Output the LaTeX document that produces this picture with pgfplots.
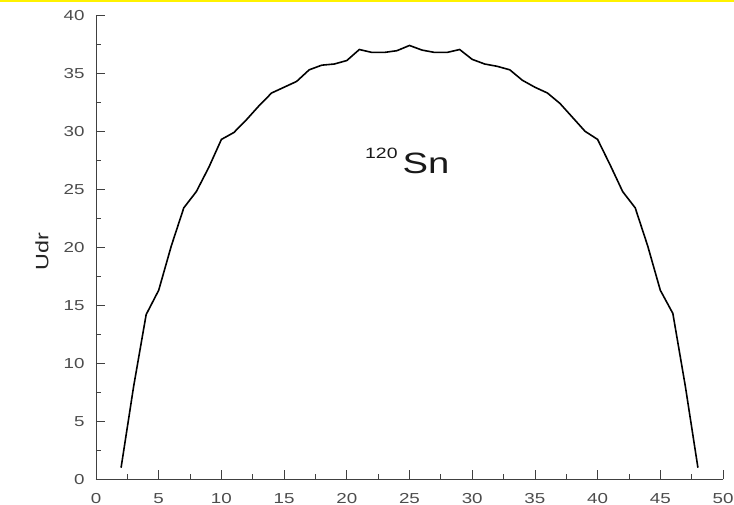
\documentclass[border=0pt]{standalone}
\usepackage{pgfplots}
\pgfplotsset{compat=1.18}
\usepackage{fontspec}
\setmainfont{Liberation Sans}[FakeStretch=1.3]
\pgfplotstableread{
x y
2 1.0
3 8.0
4 14.2
5 16.3
6 20.1
7 23.4
8 24.8
9 26.9
10 29.3
11 29.9
12 31.0
13 32.2
14 33.3
15 33.8
16 34.3
17 35.3
18 35.7
19 35.8
20 36.1
21 37.05
22 36.8
23 36.8
24 36.95
25 37.4
26 37.0
27 36.8
28 36.8
29 37.05
30 36.2
31 35.8
32 35.6
33 35.3
34 34.4
35 33.8
36 33.3
37 32.4
38 31.2
39 30.0
40 29.3
41 27.1
42 24.8
43 23.4
44 20.1
45 16.3
46 14.3
47 8.0
48 1.0
}\udr
\begin{document}
\begin{tikzpicture}
\path[use as bounding box] (-96bp,-25.7bp) rectangle (638bp,479.3bp);
\fill[yellow] (-96bp,477bp) rectangle (638bp,479.3bp);
\begin{axis}[at={(0,0)}, anchor=south west, scale only axis,
  width=627bp, height=464bp,
  xmin=0, xmax=50, ymin=0, ymax=40,
  axis lines*=left,
  axis line style={black!75, line width=0.9pt},
  xtick={0,5,...,50}, ytick={0,5,...,40},
  minor tick num=1,
  major tick length=9bp, minor tick length=5bp,
  tick style={black!75, line width=0.8pt},
  tick align=inside,
  ticklabel style={font=\fontsize{14.5}{16}\selectfont, text=black!70},
  /pgf/number format/assume math mode=true,
  xticklabel style={yshift=-10.5bp},
  yticklabel style={xshift=-8bp},
  ylabel={Udr},
  ylabel style={at={(axis description cs:-0.086,0.49)}, anchor=center, font=\fontsize{18}{20}\selectfont, text=black!85},
  clip=false]
\addplot[black, line width=1.6pt, sharp plot] table[x=x, y=y] {\udr};
\node[anchor=base west, inner sep=0, text=black!90] at (axis cs:21.45,26.4)
  {\raisebox{15bp}{\fontsize{15}{15}\selectfont 120}\hspace{5bp}{\fontsize{29.5}{30}\selectfont Sn}};
\end{axis}
\end{tikzpicture}
\end{document}
